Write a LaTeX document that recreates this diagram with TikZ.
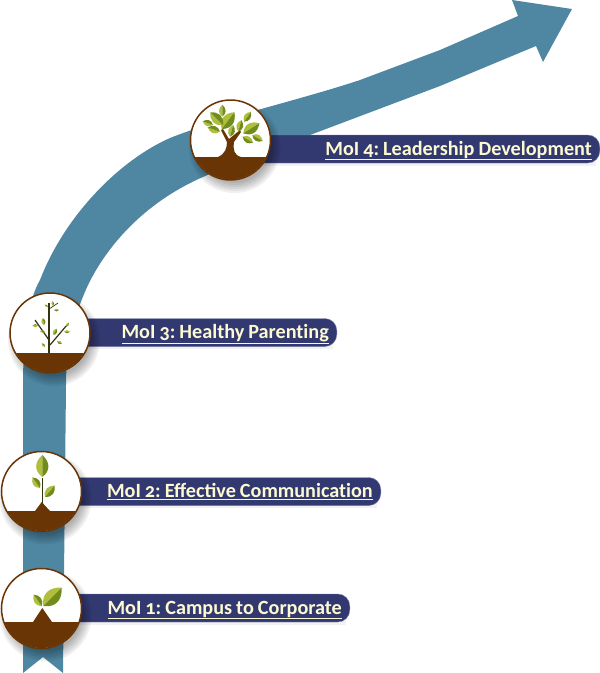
\documentclass[tikz,border=0pt]{standalone}
\usepackage{fontspec}
\setmainfont{Carlito}[Numbers=OldStyle]
\definecolor{arrowcolor}{RGB}{79, 135, 163}
\definecolor{bannercolor}{RGB}{50, 57, 112}
\definecolor{bannerline}{RGB}{125, 130, 175}
\definecolor{labelcolor}{RGB}{253, 249, 208}
\definecolor{soilcolor}{RGB}{106, 53, 4}
\definecolor{stemcolor}{RGB}{52, 52, 16}
\definecolor{leaflight}{RGB}{176, 190, 60}
\definecolor{leafdark}{RGB}{112, 140, 26}
\newcommand{\moilabel}[1]{\frenchspacing\spaceskip=0.2em\relax\underline{#1}}

\begin{document}
\begin{tikzpicture}[
    x=1pt, y=-1pt,
    banner/.style={rectangle, draw=bannerline, line width=0.4pt, fill=bannercolor, rounded corners=12pt, minimum height=28pt, anchor=east, inner xsep=8pt, inner ysep=0pt, align=right, text=labelcolor, text height=16pt, text depth=4pt, font=\fontsize{20.2}{22}\selectfont\bfseries},
    medal/.style={circle, draw=soilcolor, line width=1.5pt, fill=white, minimum size=80pt, inner sep=0pt},
    stem/.style={draw=stemcolor, line width=1.2pt},
    leaf/.pic={
        \fill[leaflight] (0,0) .. controls (3,-4) and (7,-3.4) .. (10,0) -- cycle;
        \fill[leafdark] (0,0) .. controls (3,4) and (7,3.4) .. (10,0) -- cycle;
    },
]
\useasboundingbox (0,0) rectangle (600,673);

% ============ big arrow ============
\fill[arrowcolor] (23,673) -- (23,385) .. controls (23,340) and (28,300) .. (40,280)
    .. controls (65,215) and (120,160) .. (170,138)
    .. controls (220,118) and (300,100) .. (360,80) -- (440,50) -- (518,16) -- (512,0) -- (572,9)
    -- (543,62) -- (536,46) -- (440,86) -- (310,135)
    .. controls (270,148) and (240,160) .. (203,177)
    .. controls (150,200) and (110,240) .. (88,285)
    .. controls (72,320) and (66,350) .. (66,385) -- (63,673) -- (43,657) -- cycle;

% ============ banner shadows ============
\foreach \xa/\xb/\ya in {230/596/135, 50/333/318, 42/377/477, 42/346/594} {
    \fill[black, opacity=0.05] (\xa,\ya+4) rectangle (\xb,\ya+31);
}

% ============ banners ============
\node[banner, text width=353pt] (label4) at (600,149) {\moilabel{MoI 4: Leadership Development}};
\node[banner, text width=272pt] (label3) at (337,332.5) {\moilabel{MoI 3: Healthy Parent\kern0pt ing}};
\node[banner, text width=323pt] (label2) at (381,491.5) {\moilabel{MoI 2: Effective Communicat\kern0pt ion}};
\node[banner, text width=292pt] (label1) at (350,608) {\moilabel{MoI 1: Campus to Corporate}};

% ============ medals ============
\foreach \cx/\cy/\name in {230.5/140/moi4, 50/333/moi3, 41.5/491.5/moi2, 41.5/608.5/moi1} {
    \foreach \r in {36,38,40,42,44,46} {
        \fill[black, opacity=0.06] (\cx+4,\cy+7) circle (\r);
    }
    \node[medal] (\name) at (\cx,\cy) {};
}

% tree
\begin{scope}
    \clip (moi4) circle (39.5);
    \fill[soilcolor] (180,157) -- (218,157) .. controls (225,154) and (227,148) .. (227,142)
        -- (221,130) -- (223,129) -- (229,139) -- (240,130) -- (241,132) -- (234,142)
        .. controls (233,150) and (234,155) .. (241,157) -- (280,157) -- (280,190) -- (180,190) -- cycle;
\end{scope}
\foreach \x/\y/\a/\s in {222.3/116.7/90/1.2, 221.7/129/53/2.1, 223/125/135/1.8, 213/125/160/1.1,
    220/131.7/161/1.3, 230/136.7/75/1.2, 238.3/131.7/75/1.2, 244/121.7/55/1.2,
    243.3/133.3/32/1.9, 242.7/136.7/-30/1.2, 252.3/135/-30/1.2} {
    \pic[rotate=\a, scale=\s] at (\x,\y) {leaf};
}

% sapling
\begin{scope}
    \clip (moi3) circle (39.5);
    \fill[soilcolor] (0,353) rectangle (100,380);
\end{scope}
\draw[stem] (49,353) -- (49,303);
\draw[stem] (49,340) -- (35,320);
\draw[stem] (50,345) -- (67,325);
\draw[stem, line width=0.7pt] (49,309) -- (58,303);
\foreach \x/\y/\a/\s in {38.3/325.7/180/0.6, 44/325/100/0.7, 45/332/170/0.5, 45/347/130/0.5,
    53.5/335/65/0.7, 57/341/-30/0.6, 64/331.7/0/0.6, 66/326.7/55/0.5,
    53/306/95/0.5, 54/310/0/0.5, 48/307/145/0.4} {
    \pic[rotate=\a, scale=\s] at (\x,\y) {leaf};
}

% seedling
\begin{scope}
    \clip (moi2) circle (39.5);
    \fill[soilcolor] (0,511) -- (35,511) -- (41.7,502) -- (50,511) -- (90,511) -- (90,540) -- (0,540) -- cycle;
\end{scope}
\draw[stem] (42.7,503) -- (42.7,478);
\foreach \x/\y/\a/\s in {42.3/477/90/2.2, 40/488/125/1.3, 45/497/50/1.5} {
    \pic[rotate=\a, scale=\s] at (\x,\y) {leaf};
}

% sprout
\begin{scope}
    \clip (moi1) circle (39.5);
    \fill[soilcolor] (0,622) -- (33,622) -- (42.3,608) -- (52,622) -- (90,622) -- (90,655) -- (0,655) -- cycle;
\end{scope}
\foreach \x/\y/\a/\s in {41.7/606/125/1.4, 43.3/606/45/2.6} {
    \pic[rotate=\a, scale=\s] at (\x,\y) {leaf};
}

\end{tikzpicture}
\end{document}
